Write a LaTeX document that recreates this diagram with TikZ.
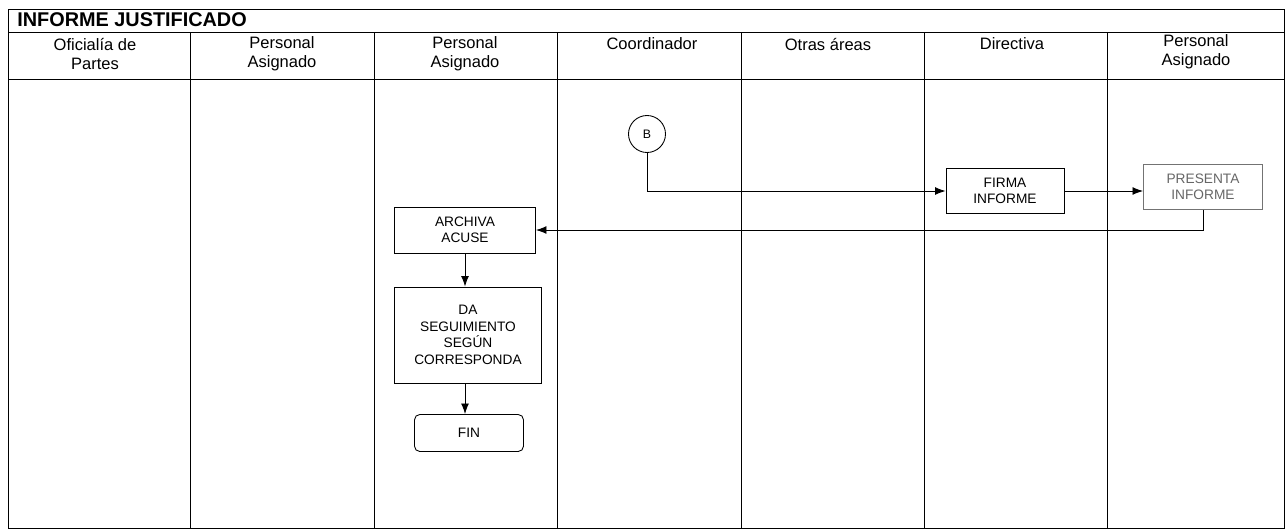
\documentclass[tikz,border=0pt]{standalone}
\usepackage{fontspec}
\setmainfont{Liberation Sans}
\usepackage{tikz}
\usetikzlibrary{shapes.geometric}
\usetikzlibrary{shapes.misc}
\usetikzlibrary{arrows.meta}

\begin{document}
\begin{tikzpicture}[x=0.02cm, y=-0.02cm]%
	\tikzstyle{lane}=[draw=black, line width=0.5pt];
	\tikzstyle{head}=[align=center, font=\fontsize{9.4}{10.8}\selectfont, inner sep=0pt];
	\tikzstyle{proc}=[rectangle, draw=black, line width=0.5pt, align=center, inner sep=0pt, font=\fontsize{7.8}{9.4}\selectfont];
	\tikzstyle{flow}=[draw=black, line width=0.5pt, -{Latex[length=6pt, width=4.5pt]}];
	\useasboundingbox (0, 0) rectangle (1286, 531);
	% frame and lanes
	\draw[lane] (8, 9) rectangle (1284, 528);
	\draw[lane] (8, 32) -- (1284, 32);
	\draw[lane] (8, 79) -- (1284, 79);
	\draw[lane] (190, 32) -- (190, 528);
	\draw[lane] (374, 32) -- (374, 528);
	\draw[lane] (557, 32) -- (557, 528);
	\draw[lane] (741, 32) -- (741, 528);
	\draw[lane] (924, 32) -- (924, 528);
	\draw[lane] (1107, 32) -- (1107, 528);
	\node[anchor=west, inner sep=0pt, font=\fontsize{11.3}{13}\selectfont\bfseries] (titulo) at (17, 20) {INFORME JUSTIFICADO};
	\node[head] (oficialia) at (95, 54) {Oficialía de\\Partes};
	\node[head] (personalA) at (282, 54) {Personal\\Asignado};
	\node[head] (personalB) at (465, 54) {Personal\\Asignado};
	\node[head] (coord) at (652, 44) {Coordinador};
	\node[head] (otras) at (828, 44) {Otras áreas};
	\node[head] (directiva) at (1012, 44) {Directiva};
	\node[head] (personalC) at (1196, 52) {Personal\\Asignado};
	% flow
	\node[circle, draw=black, line width=0.5pt, minimum size=0.74cm, inner sep=0pt, font=\fontsize{7}{8}\selectfont] (conB) at (647, 134) {B};
	\node[proc, minimum width=2.36cm, minimum height=0.9cm] (firma) at (1005, 191) {FIRMA\\INFORME};
	\node[proc, draw=black!55, text=black!60, minimum width=2.38cm, minimum height=0.9cm] (presenta) at (1203, 187) {PRESENTA\\INFORME};
	\node[proc, minimum width=2.82cm, minimum height=0.92cm] (archiva) at (465, 230) {ARCHIVA\\ACUSE};
	\node[proc, minimum width=2.94cm, minimum height=1.92cm] (seguimiento) at (468, 335) {DA\\SEGUIMIENTO\\SEGÚN\\CORRESPONDA};
	\node[proc, rounded corners=3pt, minimum width=2.18cm, minimum height=0.74cm] (fin) at (469, 433) {FIN};
	\draw[flow] (conB.south) |- (firma.west);
	\draw[flow] (firma.east) -- (firma.east -| presenta.west);
	\draw[flow] (presenta.south) |- (archiva.east);
	\draw[flow] (archiva.south) -- (archiva.south |- seguimiento.north);
	\draw[flow] (seguimiento.south -| archiva.south) -- (fin.north -| archiva.south);
\end{tikzpicture}
\end{document}
